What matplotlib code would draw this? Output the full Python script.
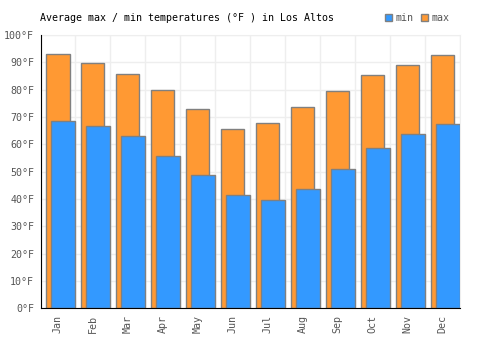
import numpy as np
import matplotlib
matplotlib.use("Agg")
import matplotlib.pyplot as plt
from matplotlib.patches import Patch

months = ["Jan", "Feb", "Mar", "Apr", "May", "Jun", "Jul", "Aug", "Sep", "Oct", "Nov", "Dec"]
t_max = [92.9, 89.6, 85.7, 79.7, 73.1, 65.7, 67.7, 73.5, 79.5, 85.4, 89.0, 92.5]
t_min = [68.4, 66.6, 62.9, 55.9, 48.6, 41.3, 39.5, 43.5, 50.9, 58.5, 63.8, 67.6]
y_ticks = list(range(0, 101, 10))

blue = "#3399ff"
orange = "#ff9933"
edge = "#808080"
grid_c = "#eeeeee"

plt.rcParams["font.family"] = ["DejaVu Sans Mono"]

fig = plt.figure(figsize=(5, 3.5), dpi=100)
ax = fig.add_axes([40.5 / 500, 1 - 308.3 / 350, 419.5 / 500, 273.3 / 350])

x = np.arange(len(months))
# max bar: 0.17..0.83 of the slot, min bar: 0.30..1.0
ax.bar(x + 0.17, t_max, width=0.66, align="edge", color=orange, edgecolor=edge, linewidth=1, zorder=2)
ax.bar(x + 0.30, t_min, width=0.70, align="edge", color=blue, edgecolor=edge, linewidth=1, zorder=3)

ax.set_xlim(0, len(months))
ax.set_ylim(0, 100)
ax.set_yticks(y_ticks)
ax.set_yticklabels([f"{v}°F" for v in y_ticks])
ax.set_xticks(x + 0.5)
ax.set_xticklabels(months, rotation=90)
ax.set_xticks(np.arange(len(months) + 1), minor=True)

ax.grid(axis="y", which="major", color=grid_c, linewidth=1, zorder=0)
ax.grid(axis="x", which="minor", color=grid_c, linewidth=1, zorder=0)
ax.set_axisbelow(True)

ax.tick_params(axis="both", which="both", length=0, labelsize=7.2, labelcolor="#555555")
ax.tick_params(axis="y", pad=4.5)
ax.tick_params(axis="x", pad=5)
for s in ["top", "right"]:
    ax.spines[s].set_color(grid_c)
ax.spines["left"].set_color("black")
ax.spines["bottom"].set_color("black")
ax.spines["left"].set_zorder(4)
ax.spines["bottom"].set_zorder(4)

fig.text(40 / 500, 1 - 18 / 350, "Average max / min temperatures (°F ) in Los Altos",
         fontsize=7.2, color="black", va="center", ha="left")

handles = [Patch(facecolor=blue, edgecolor=edge, label="min"),
           Patch(facecolor=orange, edgecolor=edge, label="max")]
fig.legend(handles=handles, loc="center right", bbox_to_anchor=(453 / 500, 1 - 18 / 350),
           ncol=2, frameon=False, fontsize=7.2, handlelength=0.7, handleheight=0.7,
           handletextpad=0.3, columnspacing=0.8, labelcolor="#555555", borderaxespad=0)

fig.savefig("out.png", dpi=100)
